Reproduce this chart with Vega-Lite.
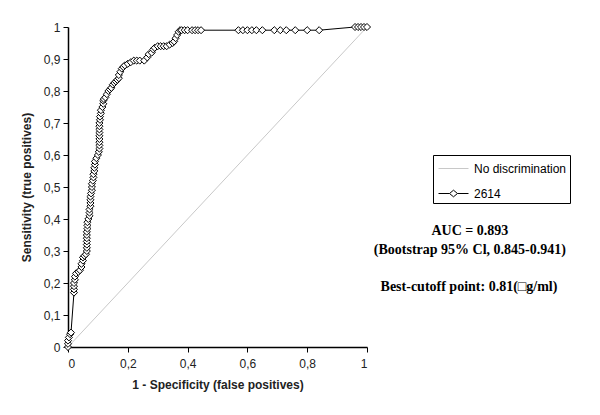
{
  "$schema": "https://vega.github.io/schema/vega-lite/v6.json",
  "width": 299,
  "height": 320,
  "autosize": {"type": "none"},
  "padding": {"left": 68, "top": 27, "right": 233, "bottom": 68},
  "background": "white",
  "config": {
    "view": {"stroke": null},
    "font": "Liberation Sans",
    "axis": {
      "grid": false,
      "domainColor": "black",
      "domainWidth": 1.5,
      "tickColor": "black",
      "tickSize": 5,
      "labelOverlap": false,
      "labelFont": "Liberation Sans",
      "labelFontSize": 12,
      "labelColor": "#222",
      "titleFont": "Liberation Sans",
      "titleFontSize": 12,
      "titleFontWeight": "bold",
      "titleColor": "#222"
    }
  },
  "datasets": {
    "diag": [
      {"fpr": 0, "tpr": 0, "series": "No discrimination"},
      {"fpr": 1, "tpr": 1, "series": "No discrimination"}
    ],
    "roc": [
      {"fpr": 0, "tpr": 0}, {"fpr": 0, "tpr": 0.01}, {"fpr": 0, "tpr": 0.02}, {"fpr": 0.003, "tpr": 0.03}, {"fpr": 0.007, "tpr": 0.04}, {"fpr": 0.01, "tpr": 0.045},
      {"fpr": 0.02, "tpr": 0.17}, {"fpr": 0.02, "tpr": 0.18}, {"fpr": 0.02, "tpr": 0.19}, {"fpr": 0.02, "tpr": 0.2}, {"fpr": 0.023, "tpr": 0.21}, {"fpr": 0.023, "tpr": 0.22},
      {"fpr": 0.027, "tpr": 0.23}, {"fpr": 0.035, "tpr": 0.235}, {"fpr": 0.04, "tpr": 0.24}, {"fpr": 0.045, "tpr": 0.25}, {"fpr": 0.045, "tpr": 0.26}, {"fpr": 0.05, "tpr": 0.27},
      {"fpr": 0.05, "tpr": 0.28}, {"fpr": 0.055, "tpr": 0.285}, {"fpr": 0.06, "tpr": 0.29}, {"fpr": 0.063, "tpr": 0.3}, {"fpr": 0.063, "tpr": 0.31}, {"fpr": 0.063, "tpr": 0.32},
      {"fpr": 0.063, "tpr": 0.33}, {"fpr": 0.063, "tpr": 0.34}, {"fpr": 0.063, "tpr": 0.35}, {"fpr": 0.063, "tpr": 0.36}, {"fpr": 0.065, "tpr": 0.37}, {"fpr": 0.065, "tpr": 0.38},
      {"fpr": 0.065, "tpr": 0.39}, {"fpr": 0.068, "tpr": 0.4}, {"fpr": 0.072, "tpr": 0.41}, {"fpr": 0.072, "tpr": 0.42}, {"fpr": 0.072, "tpr": 0.43}, {"fpr": 0.075, "tpr": 0.44},
      {"fpr": 0.075, "tpr": 0.45}, {"fpr": 0.075, "tpr": 0.46}, {"fpr": 0.075, "tpr": 0.47}, {"fpr": 0.077, "tpr": 0.48}, {"fpr": 0.08, "tpr": 0.49}, {"fpr": 0.08, "tpr": 0.5},
      {"fpr": 0.08, "tpr": 0.51}, {"fpr": 0.083, "tpr": 0.52}, {"fpr": 0.085, "tpr": 0.53}, {"fpr": 0.085, "tpr": 0.54}, {"fpr": 0.088, "tpr": 0.55}, {"fpr": 0.088, "tpr": 0.56},
      {"fpr": 0.09, "tpr": 0.57}, {"fpr": 0.09, "tpr": 0.58}, {"fpr": 0.095, "tpr": 0.59}, {"fpr": 0.1, "tpr": 0.6}, {"fpr": 0.103, "tpr": 0.61}, {"fpr": 0.105, "tpr": 0.62},
      {"fpr": 0.105, "tpr": 0.63}, {"fpr": 0.105, "tpr": 0.64}, {"fpr": 0.105, "tpr": 0.65}, {"fpr": 0.105, "tpr": 0.66}, {"fpr": 0.105, "tpr": 0.67}, {"fpr": 0.105, "tpr": 0.68},
      {"fpr": 0.105, "tpr": 0.69}, {"fpr": 0.105, "tpr": 0.7}, {"fpr": 0.107, "tpr": 0.71}, {"fpr": 0.107, "tpr": 0.72}, {"fpr": 0.11, "tpr": 0.73}, {"fpr": 0.11, "tpr": 0.74},
      {"fpr": 0.115, "tpr": 0.75}, {"fpr": 0.118, "tpr": 0.76}, {"fpr": 0.118, "tpr": 0.77}, {"fpr": 0.12, "tpr": 0.775}, {"fpr": 0.125, "tpr": 0.78}, {"fpr": 0.13, "tpr": 0.79},
      {"fpr": 0.135, "tpr": 0.8}, {"fpr": 0.14, "tpr": 0.805}, {"fpr": 0.145, "tpr": 0.81}, {"fpr": 0.15, "tpr": 0.82}, {"fpr": 0.155, "tpr": 0.825}, {"fpr": 0.16, "tpr": 0.83},
      {"fpr": 0.165, "tpr": 0.835}, {"fpr": 0.17, "tpr": 0.84}, {"fpr": 0.17, "tpr": 0.85}, {"fpr": 0.175, "tpr": 0.86}, {"fpr": 0.18, "tpr": 0.87}, {"fpr": 0.185, "tpr": 0.875},
      {"fpr": 0.19, "tpr": 0.88}, {"fpr": 0.2, "tpr": 0.885}, {"fpr": 0.21, "tpr": 0.89}, {"fpr": 0.22, "tpr": 0.895}, {"fpr": 0.23, "tpr": 0.895}, {"fpr": 0.24, "tpr": 0.895},
      {"fpr": 0.255, "tpr": 0.895}, {"fpr": 0.265, "tpr": 0.905}, {"fpr": 0.27, "tpr": 0.915}, {"fpr": 0.28, "tpr": 0.92}, {"fpr": 0.285, "tpr": 0.93}, {"fpr": 0.29, "tpr": 0.935},
      {"fpr": 0.3, "tpr": 0.94}, {"fpr": 0.31, "tpr": 0.94}, {"fpr": 0.32, "tpr": 0.94}, {"fpr": 0.33, "tpr": 0.94}, {"fpr": 0.34, "tpr": 0.945}, {"fpr": 0.35, "tpr": 0.95},
      {"fpr": 0.355, "tpr": 0.955}, {"fpr": 0.36, "tpr": 0.965}, {"fpr": 0.365, "tpr": 0.975}, {"fpr": 0.37, "tpr": 0.985}, {"fpr": 0.375, "tpr": 0.99}, {"fpr": 0.38, "tpr": 0.99},
      {"fpr": 0.39, "tpr": 0.99}, {"fpr": 0.4, "tpr": 0.99}, {"fpr": 0.415, "tpr": 0.99}, {"fpr": 0.425, "tpr": 0.99}, {"fpr": 0.435, "tpr": 0.99}, {"fpr": 0.445, "tpr": 0.99},
      {"fpr": 0.57, "tpr": 0.99}, {"fpr": 0.585, "tpr": 0.99}, {"fpr": 0.6, "tpr": 0.99}, {"fpr": 0.615, "tpr": 0.99}, {"fpr": 0.63, "tpr": 0.99}, {"fpr": 0.65, "tpr": 0.99},
      {"fpr": 0.69, "tpr": 0.99}, {"fpr": 0.71, "tpr": 0.99}, {"fpr": 0.73, "tpr": 0.99}, {"fpr": 0.76, "tpr": 0.99}, {"fpr": 0.8, "tpr": 0.99}, {"fpr": 0.84, "tpr": 0.99},
      {"fpr": 0.96, "tpr": 1}, {"fpr": 0.97, "tpr": 1}, {"fpr": 0.98, "tpr": 1}, {"fpr": 0.99, "tpr": 1}, {"fpr": 1, "tpr": 1}
    ],
    "notes": [
      {"label": "AUC = 0.893", "fpr": 1.344, "tpr": 0.3625},
      {"label": "(Bootstrap 95% Cl, 0.845-0.941)", "fpr": 1.344, "tpr": 0.303},
      {"label": "Best-cutoff point: 0.81(□g/ml)", "fpr": 1.341, "tpr": 0.1875}
    ]
  },
  "encoding": {
    "x": {"field": "fpr", "type": "quantitative", "scale": {"domain": [0, 1]},
      "axis": {"values": [0, 0.2, 0.4, 0.6, 0.8, 1], "labelOverlap": false, "labelExpr": "replace(format(datum.value, '~g'), '.', ',')", "title": "1 - Specificity (false positives)", "titlePadding": 10, "labelPadding": 6}},
    "y": {"field": "tpr", "type": "quantitative", "scale": {"domain": [0, 1]},
      "axis": {"values": [0, 0.1, 0.2, 0.3, 0.4, 0.5, 0.6, 0.7, 0.8, 0.9, 1], "labelOverlap": false, "labelExpr": "replace(format(datum.value, '~g'), '.', ',')", "title": "Sensitivity (true positives)", "titlePadding": 10, "labelPadding": 3}}
  },
  "layer": [
    {
      "data": {"name": "diag"},
      "mark": {"type": "line", "strokeWidth": 1},
      "encoding": {
        "color": {"field": "series", "type": "nominal",
          "scale": {"domain": ["No discrimination", "2614"], "range": ["#c8c8c8", "black"]},
          "legend": {
            "title": null, "orient": "none", "legendX": 365, "legendY": 128,
            "strokeColor": "black", "fillColor": "white", "padding": 3,
            "labelFont": "Liberation Sans", "labelFontSize": 12, "labelColor": "black",
            "symbolSize": 400, "symbolStrokeWidth": 1, "symbolFillColor": "white",
            "symbolOffset": 7, "labelOffset": 10, "rowPadding": 8,
            "encode": {"symbols": {"update": {"shape": {"signal": "datum.value === '2614' ? 'M-1.5,0L-0.4,0M0.4,0L1.5,0M-0.4,0L0,-0.33L0.4,0L0,0.33Z' : 'M-1.5,0L1.5,0'"}}}}
          }}
      }
    },
    {
      "data": {"name": "roc"},
      "transform": [{"calculate": "'2614'", "as": "series"}],
      "mark": {"type": "line", "strokeWidth": 1, "color": "black"},
      "encoding": {
        "color": {"field": "series", "type": "nominal"},
        "order": [{"field": "fpr"}, {"field": "tpr"}]
      }
    },
    {
      "data": {"name": "roc"},
      "mark": {"type": "point", "shape": "diamond", "filled": true, "fill": "white", "stroke": "black", "strokeWidth": 1, "size": 50, "opacity": 1},
      "encoding": {}
    },
    {
      "data": {"name": "notes"},
      "mark": {"type": "text", "font": "Liberation Serif", "fontWeight": "bold", "fontSize": 14, "align": "center", "baseline": "middle", "clip": false, "color": "black"},
      "encoding": {
        "text": {"field": "label"}
      }
    }
  ]
}
